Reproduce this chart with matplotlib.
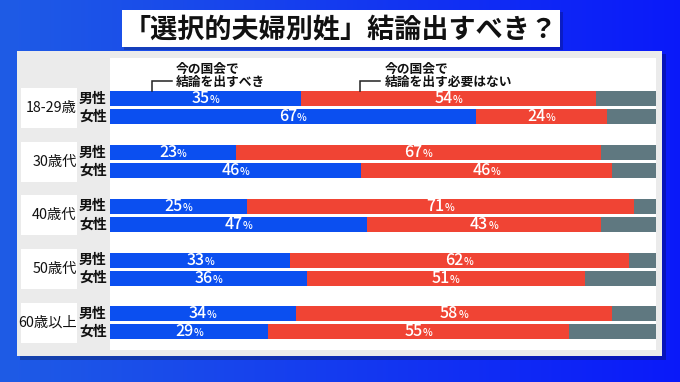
import numpy as np
import matplotlib
matplotlib.use("Agg")
import matplotlib.pyplot as plt
from matplotlib.patches import Rectangle
from matplotlib.offsetbox import TextArea, HPacker, AnnotationBbox

plt.rcParams["font.family"] = ["Noto Sans CJK JP", "DejaVu Sans"]

# data
ages = ["18-29歳", "30歳代", "40歳代", "50歳代", "60歳以上"]
sexes = ["男性", "女性"]
should = [[35, 67], [23, 46], [25, 47], [33, 36], [34, 29]]       # 結論を出すべき
not_needed = [[54, 24], [67, 46], [71, 43], [62, 51], [58, 55]]  # 必要はない
title = "「選択的夫婦別姓」結論出すべき？"
legend_a = "今の国会で\n結論を出すべき"
legend_b = "今の国会で\n結論を出す必要はない"

BLUE = "#0b4ff0"
RED = "#f04434"
GRAY = "#5f7880"

W, H = 680, 382
fig = plt.figure(figsize=(W / 100, H / 100), dpi=100)

# background gradient
bg = fig.add_axes([0, 0, 1, 1], zorder=0)
grad = np.linspace(0, 1, 256)
c0 = np.array([0.12, 0.36, 0.90])
c1 = np.array([0.04, 0.10, 0.98])
img = (c0[None, :] * (1 - grad[:, None]) + c1[None, :] * grad[:, None])[None, :, :]
bg.imshow(img, aspect="auto", extent=[0, 1, 0, 1])
bg.set_xlim(0, 1)
bg.set_ylim(0, 1)
bg.axis("off")


def px_rect(x0, y0, x1, y1, **kw):
    r = Rectangle((x0 / W, 1 - y1 / H), (x1 - x0) / W, (y1 - y0) / H,
                  transform=bg.transAxes, **kw)
    bg.add_patch(r)


# panel with shadow
px_rect(20, 54, 666, 360, color="black", alpha=0.25, lw=0)
px_rect(17, 51, 662, 356, color="#ebebeb", lw=0)
# title box
px_rect(124, 12, 563, 50, color="black", alpha=0.2, lw=0)
px_rect(122, 10, 560, 47, color="white", lw=0)
bg.text(341 / W, 1 - 29 / H, title, ha="center", va="center",
        fontsize=19.5, fontweight="bold", color="#111111")

# main bars
ax = fig.add_axes([110 / W, 1 - 350 / H, 546 / W, 292 / H], zorder=2)
ax.set_facecolor("white")
for s in ax.spines.values():
    s.set_visible(False)
ax.set_xticks([])
ax.set_yticks([])
ax.set_xlim(0, 100)
ax.set_ylim(14.01, -2.28)

bar_h = 0.84


def pct_label(x, y, val):
    a = TextArea(str(val), textprops=dict(color="white", fontsize=11.5, fontweight="medium"))
    b = TextArea("%", textprops=dict(color="white", fontsize=7.5, fontweight="medium"))
    box = HPacker(children=[a, b], align="baseline", pad=0, sep=0)
    ab = AnnotationBbox(box, (x, y), xycoords="data", frameon=False,
                        box_alignment=(0.5, 0.5), pad=0, annotation_clip=False)
    ax.add_artist(ab)


for i, age in enumerate(ages):
    for j, sex in enumerate(sexes):
        y = 3 * i + j
        a = should[i][j]
        b = not_needed[i][j]
        rest = 100 - a - b
        ax.barh(y, a, height=bar_h, color=BLUE, lw=0)
        ax.barh(y, b, left=a, height=bar_h, color=RED, lw=0)
        ax.barh(y, rest, left=a + b, height=bar_h, color=GRAY, lw=0)
        pct_label(a / 2, y, a)
        pct_label(a + b / 2, y, b)
        ax.text(-0.6, y, sex, ha="right", va="center", fontsize=10,
                fontweight="bold", color="#111111", clip_on=False)
    # age label box
    yc = 3 * i + 0.5
    ax.add_patch(Rectangle((-16.3, yc - 1.12), 10.3, 2.24, color="white",
                           lw=0, clip_on=False))
    ax.text(-6.1, yc, age, ha="right", va="center", fontsize=10.3,
            color="#111111", clip_on=False)

# legend annotations with brackets
for x_v, x_h, x_t, txt in [(7.7, 11.4, 12.0, legend_a), (45.8, 49.5, 50.3, legend_b)]:
    ax.plot([x_v, x_v, x_h], [-0.42, -1.0, -1.0], color="#222222", lw=1.1,
            clip_on=False, solid_joinstyle="miter")
    ax.text(x_t, -1.28, txt, ha="left", va="center", fontsize=9.2,
            fontweight="bold", color="#111111", linespacing=0.95)

fig.savefig("out.png", dpi=100)
